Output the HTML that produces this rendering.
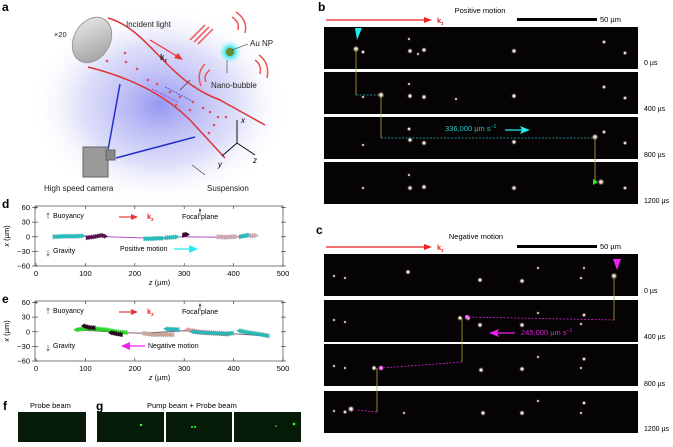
<!DOCTYPE html>
<html><head><meta charset="utf-8"><style>
body{margin:0;background:#fff;font-family:"Liberation Sans",sans-serif}
svg text{font-family:"Liberation Sans",sans-serif}
</style></head><body>
<svg id="fig" width="673" height="442" viewBox="0 0 673 442" xmlns="http://www.w3.org/2000/svg">
<defs>
<radialGradient id="glow" cx="0.5" cy="0.5" r="0.5"><stop offset="0" stop-color="#8a8cf0" stop-opacity="0.9"/><stop offset="0.6" stop-color="#c8c9f6" stop-opacity="0.6"/><stop offset="1" stop-color="#fff" stop-opacity="0"/></radialGradient>
<radialGradient id="spot" cx="0.5" cy="0.5" r="0.5"><stop offset="0" stop-color="#fff"/><stop offset="0.35" stop-color="#f4d8d0"/><stop offset="1" stop-color="#000" stop-opacity="0"/></radialGradient>
<radialGradient id="bub" cx="0.5" cy="0.5" r="0.5"><stop offset="0" stop-color="#5a8a2a"/><stop offset="0.4" stop-color="#55e8f0"/><stop offset="1" stop-color="#fff" stop-opacity="0"/></radialGradient>
<linearGradient id="lens" x1="0" y1="0" x2="1" y2="1"><stop offset="0" stop-color="#eee"/><stop offset="1" stop-color="#999"/></linearGradient>
</defs>

<!-- panel a -->
<g>
<text x="2" y="11" font-size="12" font-weight="bold">a</text>
<ellipse cx="160" cy="105" rx="130" ry="100" fill="url(#glow)"/>
<ellipse cx="92" cy="40" rx="18" ry="24" transform="rotate(30 92 40)" fill="url(#lens)" stroke="#999"/>
<text x="54" y="37" font-size="7.5" fill="#222">×20</text>
<path d="M108 18 C150 30 165 80 220 100 L265 125" stroke="#d33" stroke-width="1.5" fill="none"/>
<path d="M88 67 C140 80 170 100 190 120 L225 158" stroke="#d33" stroke-width="1.5" fill="none"/>
<g fill="#e05060">
<circle cx="125" cy="53" r="1.3"/><circle cx="107" cy="61" r="1.3"/><circle cx="126" cy="62" r="1.3"/><circle cx="137" cy="69" r="1.3"/><circle cx="148" cy="80" r="1.3"/><circle cx="157" cy="84" r="1.3"/><circle cx="170" cy="92" r="1.3"/><circle cx="180" cy="97" r="1.3"/><circle cx="193" cy="102" r="1.3"/><circle cx="203" cy="108" r="1.3"/><circle cx="210" cy="112" r="1.3"/><circle cx="218" cy="117" r="1.3"/><circle cx="226" cy="117" r="1.3"/><circle cx="214" cy="125" r="1.3"/><circle cx="209" cy="133" r="1.3"/><circle cx="176" cy="105" r="1.3"/><circle cx="190" cy="110" r="1.3"/>
</g>
<path d="M152 89 L178 102" stroke="#a040e0" stroke-width="0.8" stroke-dasharray="2 1"/>
<path d="M165 87 L192 101" stroke="#3050e0" stroke-width="0.8" stroke-dasharray="2 1"/>
<path d="M180 90 L190 80" stroke="#333" stroke-width="0.6"/>
<text x="126" y="27" font-size="8" fill="#222">Incident light</text>
<path d="M150 40 L180 58" stroke="#e33" stroke-width="1.2"/><path d="M183 60 L174 58 L178 53 Z" fill="#e33"/>
<text x="160" y="60" font-size="8" font-weight="bold" fill="#222">k<tspan font-size="5" dy="2">z</tspan></text>
<g stroke="#e55" stroke-width="1.5" fill="none">
<path d="M190 40 L205 25"/><path d="M194 42 L209 27"/><path d="M198 44 L213 29"/>
<path d="M232 17 Q240 22 238 30"/><path d="M236 12 Q248 20 245 33"/><path d="M255 60 Q262 65 260 74"/><path d="M259 55 Q270 63 267 78"/><path d="M210 70 Q203 75 206 82"/><path d="M205 64 Q196 73 201 86"/>
</g>
<circle cx="230" cy="52" r="13" fill="url(#bub)"/>
<circle cx="230" cy="52" r="4" fill="#6a8a2a"/>
<path d="M232 50 L248 44 M227 60 L227 73" stroke="#333" stroke-width="0.6"/>
<text x="250" y="46" font-size="8" fill="#222">Au NP</text>
<text x="211" y="88" font-size="8" fill="#222">Nano-bubble</text>
<path d="M120 84 L108 150 M116 158 L195 137" stroke="#2530c8" stroke-width="1.5"/>
<g><rect x="83" y="147" width="25" height="30" fill="#9a9a9a" stroke="#666"/><rect x="106" y="150" width="9" height="10" fill="#888" stroke="#666"/></g>
<text x="44" y="191" font-size="8" fill="#222">High speed camera</text>
<text x="207" y="191" font-size="8" fill="#222">Suspension</text>
<path d="M192 165 L205 175" stroke="#333" stroke-width="0.6"/>
<g stroke="#111" stroke-width="1" fill="none"><path d="M237 143 L237 120 M237 143 L255 155 M237 143 L222 156"/></g>
<text x="241" y="123" font-size="8" font-style="italic">x</text><text x="253" y="163" font-size="8" font-style="italic">z</text><text x="218" y="167" font-size="8" font-style="italic">y</text>
</g>

<!-- panel b -->
<g>
<text x="318" y="11" font-size="12" font-weight="bold">b</text>
<text x="480" y="13" font-size="7.5" text-anchor="middle">Positive motion</text>
<path d="M326 20 L428 20" stroke="#e22" stroke-width="1.3"/><path d="M432 20 L424 17 L424 23Z" fill="#e22"/>
<text x="437" y="23" font-size="7.5" font-weight="bold" fill="#e22">k<tspan font-size="5" dy="2">z</tspan></text>
<rect x="517" y="18" width="80" height="3" fill="#000"/><text x="600" y="22" font-size="7.5">50 µm</text>
<g id="bframes"></g>
<text x="644" y="65" font-size="7">0 µs</text><text x="644" y="111" font-size="7">400 µs</text><text x="644" y="157" font-size="7">800 µs</text><text x="644" y="203" font-size="7">1200 µs</text>
<g stroke-width="0.8" fill="none">
<path d="M356 49 V95 M381 95 V138 M595 137 V182" stroke="#b0b030"/>
<path d="M356 95 H379 M381 138 H593" stroke="#2bb" stroke-dasharray="2 1.5"/>
</g>
<path d="M355 28 L362 28 L357 40Z" fill="#2ee"/>
<path d="M593 179 L598 182 L593 185Z" fill="#2e2"/>
<text x="445" y="131" font-size="7.5" fill="#2cc">336,000 µm s<tspan font-size="5" dy="-3">−1</tspan></text>
<path d="M505 130 L524 130" stroke="#2ee" stroke-width="1.2"/><path d="M530 130 L520 126 L522 130 L520 134Z" fill="#2ee"/>
</g>

<!-- panel c -->
<g>
<text x="316" y="234" font-size="12" font-weight="bold">c</text>
<text x="476" y="239" font-size="7.5" text-anchor="middle">Negative motion</text>
<path d="M326 247 L428 247" stroke="#e22" stroke-width="1.3"/><path d="M432 247 L424 244 L424 250Z" fill="#e22"/>
<text x="437" y="250" font-size="7.5" font-weight="bold" fill="#e22">k<tspan font-size="5" dy="2">z</tspan></text>
<rect x="517" y="245" width="80" height="3" fill="#000"/><text x="600" y="249" font-size="7.5">50 µm</text>
<g id="cframes"></g>
<text x="644" y="293" font-size="7">0 µs</text><text x="644" y="339" font-size="7">400 µs</text><text x="644" y="386" font-size="7">800 µs</text><text x="644" y="431" font-size="7">1200 µs</text>
<g stroke-width="0.8" fill="none">
<path d="M614 276 V320 M462 318 V362 M377 368 V412" stroke="#b0b030"/>
<path d="M614 320 L466 317 M462 362 L382 368 M377 412 L356 410" stroke="#d2d" stroke-dasharray="2 1.5"/>
</g>
<path d="M613 259 L621 259 L617 270Z" fill="#e2e"/>
<circle cx="467" cy="317" r="2" fill="#f6f"/><circle cx="381" cy="368" r="2" fill="#f6f"/>
<text x="521" y="335" font-size="7.5" fill="#d2d">245,000 µm s<tspan font-size="5" dy="-3">−1</tspan></text>
<path d="M515 333 L496 333" stroke="#e2e" stroke-width="1.2"/><path d="M489 333 L499 329 L497 333 L499 337Z" fill="#e2e"/>
</g>

<!-- panels d & e -->
<g id="plotD"></g>
<g id="plotE"></g>

<!-- f g -->
<text x="3" y="410" font-size="12" font-weight="bold">f</text>
<text x="30" y="408" font-size="7.5">Probe beam</text>
<rect x="18" y="412" width="68" height="30" fill="#061a08"/>
<text x="96" y="410" font-size="12" font-weight="bold">g</text>
<text x="147" y="408" font-size="7.5">Pump beam + Probe beam</text>
<rect x="97" y="412" width="67" height="30" fill="#061a08"/>
<rect x="166" y="412" width="66" height="30" fill="#061a08"/>
<rect x="234" y="412" width="67" height="30" fill="#061a08"/>
<circle cx="141" cy="425" r="1.2" fill="#3f3"/><circle cx="192" cy="427" r="1" fill="#3f3"/><circle cx="195" cy="427" r="1" fill="#3f3"/><circle cx="276" cy="426" r="0.8" fill="#3f3"/><circle cx="294" cy="424" r="1.3" fill="#3f3"/>
</svg>
<script>
// ---- chart data ----
const zTicks = [0, 100, 200, 300, 400, 500];
const xTicks = [60, 30, 0, -30, -60];
// panel d trajectories: z positions and x positions per segment
const dSegColors = ["#2bc4c4", "#5a1050", "#2bc4c4", "#2bc4c4", "#3a0a30", "#d8b0b8", "#2bc4c4", "#d8b0b8"];
const dSegZ = [[38, 60, 80, 100], [105, 120, 135, 145], [222, 235, 250, 262], [265, 278, 290], [300, 305, 310], [370, 385, 400, 410], [415, 425, 435], [435, 442, 450]];
const dSegX = [[0, 1, 1, 2], [-2, 0, 3, 0], [-4, -4, -3, -3], [-2, -1, 0], [3, 5, 4], [0, -1, 0, 0], [0, 2, 4], [2, 2, 3]];
const dLineZ = [38, 100, 145, 230, 300, 370, 450];
const dLineX = [0, 1, 0, -3, 0, -1, 2];
// panel e trajectories
const eSegColors = ["#30e030", "#2a0a20", "#2a0a20", "#d8b0a0", "#2bc4c4", "#e8a0a0", "#2bc4c4", "#2bc4c4"];
const eSegZ = [[80, 100, 120, 140, 160, 185], [95, 105, 120], [150, 160, 175], [215, 235, 255, 280], [262, 275, 290], [305, 330, 360, 390], [315, 340, 380, 400], [410, 430, 450, 472]];
const eSegX = [[4, 7, 6, 4, 0, -2], [12, 9, 8], [-2, -4, -7], [-3, -6, -6, -6], [6, 5, 4], [4, -1, -3, -5], [0, -2, -4, -3], [2, -2, -5, -9]];
const eLineZ = [80, 185, 215, 300, 400, 472];
const eLineX = [4, -2, -3, 2, -4, -9];

const NS = "http://www.w3.org/2000/svg";
function mk(tag, attrs, parent) { const e = document.createElementNS(NS, tag); for (const k in attrs) e.setAttribute(k, attrs[k]); parent.appendChild(e); return e; }

function drawPlot(g, top, label, motionText, motionColor, motionDir, segZ, segX, segColors, lineZ, lineX, lineColor) {
  const left = 36, right = 283, bottom = top + 60;
  const sz = z => left + (z - 0) / 500 * (right - left);
  const sx = x => top + 1.5 + (60 - x) / 120 * (bottom - top - 1.5);
  const frame = mk("rect", {x: left - 1, y: top, width: right - left + 1, height: bottom - top, fill: "none", stroke: "#444", "stroke-width": 0.7}, g);
  
  
  const lab = mk("text", {x: 2, y: top + 2, "font-size": 12, "font-weight": "bold"}, g); lab.textContent = label;
  
  
  zTicks.forEach(z => {
    mk("line", {x1: sz(z), x2: sz(z), y1: top, y2: top + 3, stroke: "#444", "stroke-width": 0.7}, g);
    mk("line", {x1: sz(z), x2: sz(z), y1: bottom, y2: bottom - 3, stroke: "#444", "stroke-width": 0.7}, g);
    const t = mk("text", {x: sz(z), y: bottom + 10, "font-size": 7.5, "text-anchor": "middle"}, g); t.textContent = z;
    
    
  });
  xTicks.forEach(x => {
    mk("line", {x1: left - 4, x2: left + 2, y1: sx(x), y2: sx(x), stroke: "#444", "stroke-width": 0.7}, g);
    mk("line", {x1: right - 2, x2: right + 3, y1: sx(x), y2: sx(x), stroke: "#444", "stroke-width": 0.7}, g);
    const t = mk("text", {x: left - 6, y: sx(x) + 2.5, "font-size": 7.5, "text-anchor": "end"}, g); t.textContent = x === 0 ? "0" : (x < 0 ? "−" + (-x) : x);
    
    
  });
  const zt = mk("text", {x: (left + right) / 2, y: bottom + 19, "font-size": 7.5, "text-anchor": "middle"}, g);
  zt.innerHTML = '<tspan font-style="italic">z</tspan> (µm)';
  
  
  const xt = mk("text", {x: 0, y: 0, "font-size": 7.5, "text-anchor": "middle", transform: `translate(9 ${(top + bottom) / 2}) rotate(-90)`}, g);
  xt.innerHTML = '<tspan font-style="italic">x</tspan> (µm)';
  
  
  // annotations
  mk("path", {d: `M48 ${top + 13} V${top + 7}`, stroke: "#999", "stroke-width": 1}, g);
  mk("path", {d: `M46 ${top + 9} L48 ${top + 6} L50 ${top + 9}Z`, fill: "#999"}, g);
  let t = mk("text", {x: 53, y: top + 12, "font-size": 7}, g); t.textContent = "Buoyancy";
  mk("path", {d: `M48 ${top + 44} V${top + 50}`, stroke: "#999", "stroke-width": 1}, g);
  mk("path", {d: `M46 ${top + 48} L48 ${top + 51} L50 ${top + 48}Z`, fill: "#999"}, g);
  t = mk("text", {x: 53, y: top + 47, "font-size": 7}, g); t.textContent = "Gravity";
  mk("path", {d: `M119 ${top + 11} L133 ${top + 11}`, stroke: "#e33", "stroke-width": 1.2}, g);
  mk("path", {d: `M138 ${top + 11} L131 ${top + 8} L131 ${top + 14}Z`, fill: "#e33"}, g);
  t = mk("text", {x: 147, y: top + 13, "font-size": 7.5, "font-weight": "bold", fill: "#e22"}, g); t.innerHTML = 'k<tspan font-size="5" dy="2">z</tspan>';
  mk("path", {d: `M200 ${top + 10} V${top + 3}`, stroke: "#111", "stroke-width": 0.6}, g);
  mk("path", {d: `M199 ${top + 5} L200 ${top + 2} L201 ${top + 5}Z`, fill: "#111"}, g);
  t = mk("text", {x: 182, y: top + 13, "font-size": 7}, g); t.textContent = "Focal plane";
  if (motionDir > 0) {
    t = mk("text", {x: 120, y: top + 45, "font-size": 7}, g); t.textContent = motionText;
    mk("path", {d: `M174 ${top + 43} L192 ${top + 43}`, stroke: motionColor, "stroke-width": 1.2}, g);
    mk("path", {d: `M198 ${top + 43} L189 ${top + 39} L189 ${top + 47}Z`, fill: motionColor}, g);
  } else {
    mk("path", {d: `M127 ${top + 45} L145 ${top + 45}`, stroke: motionColor, "stroke-width": 1.2}, g);
    mk("path", {d: `M121 ${top + 45} L130 ${top + 41} L130 ${top + 49}Z`, fill: motionColor}, g);
    t = mk("text", {x: 148, y: top + 47, "font-size": 7}, g); t.textContent = motionText;
  }
  // connecting line
  const pl = mk("polyline", {points: lineZ.map((z, i) => sz(z) + "," + sx(lineX[i])).join(" "), fill: "none", stroke: lineColor, "stroke-width": 1}, g);
  
  
  // marker segments
  segZ.forEach((zs, si) => {
    const sg = mk("g", {}, g);
    
    
    for (let i = 0; i < zs.length - 1; i++) {
      const z0 = zs[i], z1 = zs[i + 1], x0 = segX[si][i], x1 = segX[si][i + 1];
      const n = Math.max(2, Math.round((z1 - z0) / 4));
      for (let k = 0; k < n; k++) {
        const f = k / n, cx = sz(z0 + (z1 - z0) * f), cy = sx(x0 + (x1 - x0) * f);
        const d = motionDir > 0 ? `M${cx - 2} ${cy - 2.5} L${cx + 2} ${cy} L${cx - 2} ${cy + 2.5}Z` : `M${cx + 2} ${cy - 2.5} L${cx - 2} ${cy} L${cx + 2} ${cy + 2.5}Z`;
        mk("path", {d, fill: segColors[si], stroke: "#000", "stroke-opacity": 0.25, "stroke-width": 0.3}, sg);
      }
    }
  });
}
drawPlot(document.getElementById("plotD"), 206, "d", "Positive motion", "#2ee", 1, dSegZ, dSegX, dSegColors, dLineZ, dLineX, "#b050c0");
drawPlot(document.getElementById("plotE"), 301, "e", "Negative motion", "#e2e", -1, eSegZ, eSegX, eSegColors, eLineZ, eLineX, "#806070");

// microscopy frames
function frames(gid, tops, spots, prefix) {
  const g = document.getElementById(gid);
  tops.forEach((y, i) => {
    const r = mk("rect", {x: 324, y, width: 314, height: 42, fill: "#050303"}, g);
    
    
    spots[i].forEach(s => mk("circle", {cx: s[0], cy: y + s[1], r: s[2] * 1.3, fill: "url(#spot)"}, g));
  });
}
frames("bframes", [27, 72, 117, 162], [
  [[356,22,3],[363,25,2],[410,24,2.5],[424,23,2.5],[514,24,2.5],[625,26,2],[604,15,2],[409,12,1.5],[418,27,1.5]],
  [[381,23,3],[363,25,1.5],[410,24,2.5],[424,25,2.5],[514,24,2.5],[625,26,2],[604,15,2],[409,12,1.5],[456,27,1.5]],
  [[595,20,3],[363,28,1.5],[410,23,2.5],[424,26,2.5],[514,25,2.5],[625,26,2],[604,15,2],[409,12,2]],
  [[601,20,3],[363,26,1.5],[410,26,2.5],[424,25,2.5],[514,26,2.5],[625,26,2],[409,13,1.5]]
], "b");
frames("cframes", [254, 300, 344, 391], [
  [[614,22,3],[408,18,2.5],[480,26,2.5],[522,27,2.5],[538,14,1.5],[334,22,1.5],[345,24,1.5],[581,24,1.5],[584,14,1.5]],
  [[460,18,2.5],[468,18,2.5],[480,25,2.5],[522,25,2.5],[538,13,1.5],[334,20,1.5],[345,22,1.5],[581,24,1.5],[584,15,2]],
  [[374,24,2.5],[381,24,2.5],[481,26,2.5],[522,25,2.5],[538,13,1.5],[334,22,1.5],[345,24,1.5],[581,24,1.5],[584,15,2]],
  [[351,18,3],[345,21,2],[483,22,2.5],[522,22,2.5],[538,10,1.5],[334,20,1.5],[404,22,1.5],[581,22,1.5],[584,12,2]]
], "c");
</script>
</body></html>
